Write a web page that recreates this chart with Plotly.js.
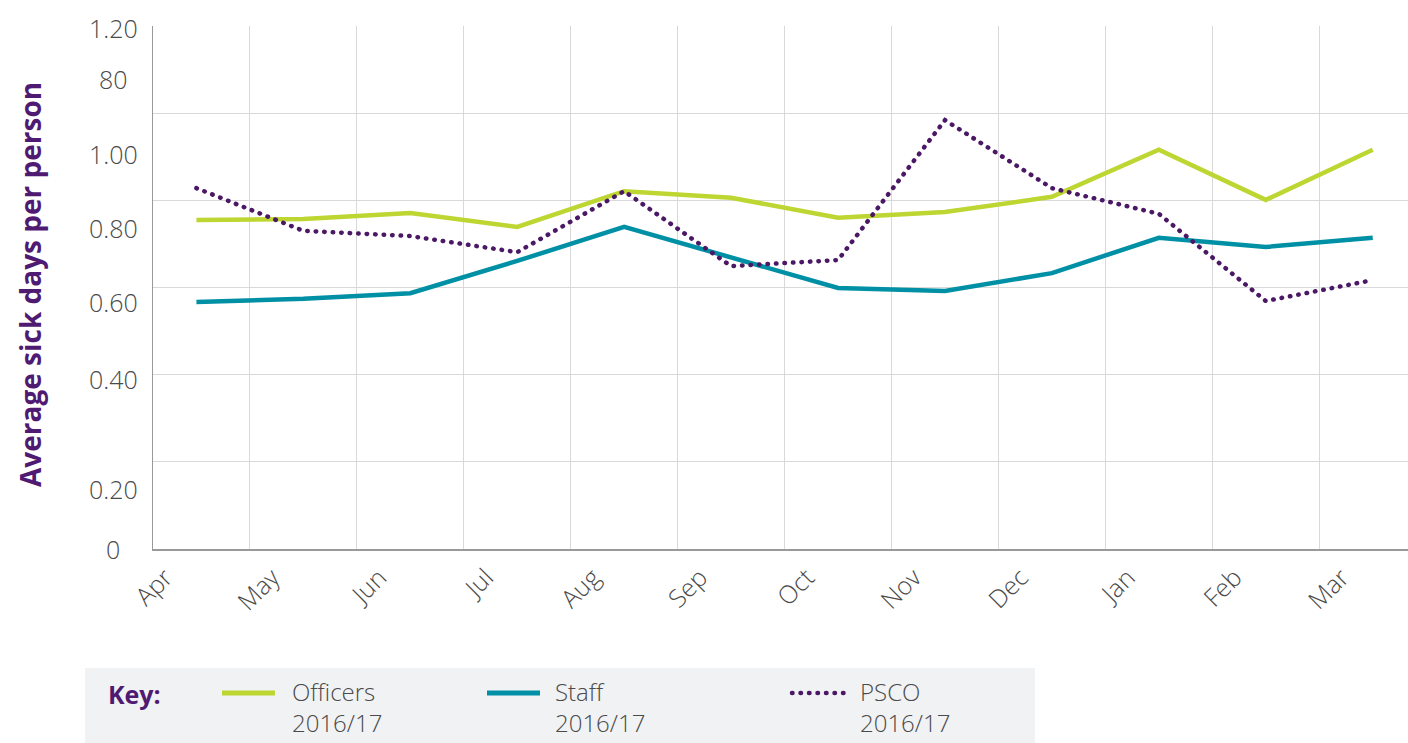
<!DOCTYPE html>
<html>
<head>
<meta charset="utf-8">
<script src="https://cdn.plot.ly/plotly-3.0.1.min.js"></script>
<style>
html,body{margin:0;padding:0;background:#fff;}
#chart .scatterlayer .trace:nth-child(3) path.js-line, #chart .layer-above path.dotted-key {stroke-linecap:round;}
</style>
</head>
<body>
<div id="chart" style="width:1408px;height:743px;"></div>
<script>
// ---- data ----
const months = ["Apr","May","Jun","Jul","Aug","Sep","Oct","Nov","Dec","Jan","Feb","Mar"];
const officers = [0.755,0.757,0.771,0.739,0.821,0.806,0.760,0.773,0.808,0.916,0.801,0.916];
const staff    = [0.567,0.574,0.587,0.661,0.739,0.668,0.599,0.592,0.633,0.714,0.693,0.714];
const psco     = [0.828,0.730,0.718,0.681,0.821,0.649,0.663,0.984,0.828,0.769,0.569,0.617];
// y tick labels as printed in the original (misaligned in source)
const yTickText = ["0","0.20","0.40","0.60","0.80","1.00","80","1.20"];
const yTickAt   = [0, 0.138, 0.39, 0.567, 0.737, 0.906, 1.078, 1.195];
const seriesNames = ["Officers","Staff","PSCO"];
const seasonLabel = "2016/17";

// ---- layout helpers ----
const W = 1408, H = 743;
const L = 153, R = 0, T = 26, B = 194;
const plotW = W - L - R, plotH = H - T - B;
const px2x = p => (p - L) / plotW;
const py2y = p => (H - B - p) / plotH;
const xRange = [0.094, 11.83];
const labelShift = 0.21;

const colors = {officers:"#bdd631", staff:"#0090a5", psco:"#4b1866"};
const xs = months.map((m,i) => i + 0.5);
const dotDash = "0.5px,8px";

const traces = [
  {x: xs, y: officers, name: seriesNames[0], mode:"lines", line:{color:colors.officers, width:4.5}, hoverinfo:"skip"},
  {x: xs, y: staff, name: seriesNames[1], mode:"lines", line:{color:colors.staff, width:4.5}, hoverinfo:"skip"},
  {x: xs, y: psco, name: seriesNames[2], mode:"lines", line:{color:colors.psco, width:4.5, dash:dotDash}, hoverinfo:"skip"}
];

const fontFam = "'Open Sans', Lato, sans-serif";
const txtColor = "#4a4a4a";
const annotations = [];
yTickText.forEach((t,i) => annotations.push({
  xref:"paper", yref:"y", x: px2x(113), y: yTickAt[i], text: t, showarrow:false,
  xanchor:"center", yanchor:"middle", font:{family:fontFam, size:25, color:txtColor, weight:300}
}));
annotations.push({xref:"paper", yref:"paper", x:px2x(30), y:py2y(285), text:"Average sick days per person",
  textangle:-90, showarrow:false, xanchor:"center", yanchor:"middle",
  font:{family:fontFam, size:28, color:"#4f1a72", weight:700}});
annotations.push({xref:"paper", yref:"paper", x:px2x(106), y:py2y(694), text:"Key:",
  showarrow:false, xanchor:"left", yanchor:"middle", font:{family:fontFam, size:25, color:"#4f1a72", weight:700}});

const legendX = [[222,275,290],[487,540,553],[792,845,858]];
const legendColors = [colors.officers, colors.staff, colors.psco];
const shapes = [{type:"rect", xref:"paper", yref:"paper", x0:px2x(85), x1:px2x(1035), y0:py2y(743), y1:py2y(668),
  fillcolor:"#f1f2f4", line:{width:0}, layer:"below"}];
seriesNames.forEach((n,i) => {
  shapes.push({type:"line", xref:"paper", yref:"paper", x0:px2x(legendX[i][0]), x1:px2x(legendX[i][1]),
    y0:py2y(693), y1:py2y(693), line:{color:legendColors[i], width: i===2?4.5:5, dash: i===2?dotDash:"solid"}});
  annotations.push({xref:"paper", yref:"paper", x:px2x(legendX[i][2]), y:py2y(673), text:n+"<br>"+seasonLabel,
    showarrow:false, xanchor:"left", yanchor:"top", align:"left",
    font:{family:fontFam, size:24, color:txtColor, weight:300}});
});

const layout = {
  width:W, height:H, margin:{l:L, r:R, t:T, b:B, pad:0},
  paper_bgcolor:"#fff", plot_bgcolor:"#fff", showlegend:false,
  xaxis:{range:xRange, tick0:0, dtick:1, showticklabels:false, ticks:"", showgrid:true, gridcolor:"#d9d9d9", gridwidth:1.2,
    showline:true, linecolor:"#999", linewidth:1.5, zeroline:false, fixedrange:true},
  xaxis2:{overlaying:"x", side:"bottom", range:[xRange[0]-labelShift, xRange[1]-labelShift], tickvals:months.map((m,i)=>i), ticktext:months,
    tickangle:-45, showgrid:false, showline:false, zeroline:false, ticks:"outside", ticklen:3, tickcolor:"rgba(0,0,0,0)",
    tickfont:{family:fontFam, size:25, color:txtColor, weight:300}, fixedrange:true, anchor:"y"},
  yaxis:{range:[0,1.2], tick0:0, dtick:0.2, showticklabels:false, ticks:"", showgrid:true, gridcolor:"#d9d9d9", gridwidth:1.2,
    showline:true, linecolor:"#999", linewidth:1.5, zeroline:false, fixedrange:true},
  annotations, shapes
};
// invisible trace so xaxis2 is drawn
traces.push({x:[0], y:[0], xaxis:"x2", mode:"markers", marker:{opacity:0}, hoverinfo:"skip", showlegend:false});
Plotly.newPlot("chart", traces, layout, {staticPlot:true}).then(gd => {
  // round caps on the dotted series and its key sample
  gd.querySelectorAll(".shapelayer path").forEach(p => {
    if ((p.style.strokeDasharray || "").indexOf("0.5") === 0) p.style.strokeLinecap = "round";
  });
  gd.querySelectorAll(".scatterlayer path.js-line").forEach(p => {
    if ((p.style.strokeDasharray || "").indexOf("0.5") === 0) p.style.strokeLinecap = "round";
  });
});
</script>
</body>
</html>
